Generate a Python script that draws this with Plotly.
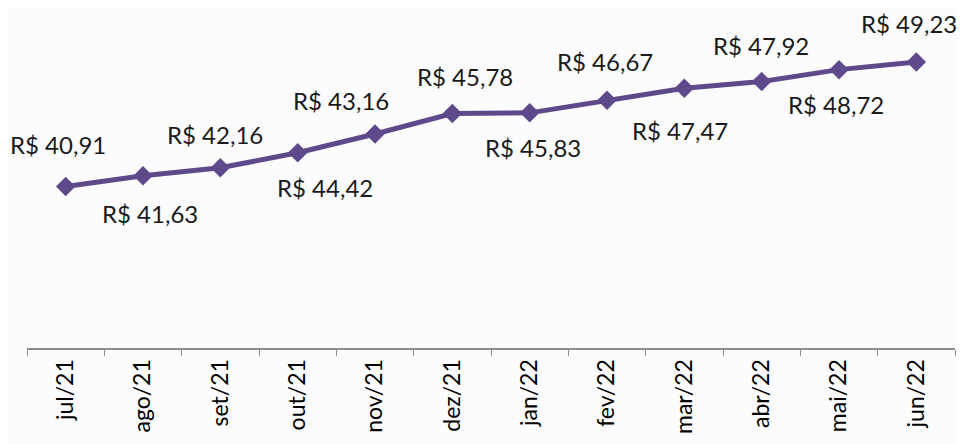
import plotly.graph_objects as go

months = ["jul/21", "ago/21", "set/21", "out/21", "nov/21", "dez/21",
          "jan/22", "fev/22", "mar/22", "abr/22", "mai/22", "jun/22"]
values = [40.91, 41.63, 42.16, 43.16, 44.42, 45.78,
          45.83, 46.67, 47.47, 47.92, 48.72, 49.23]

# label offsets in pixels (style only)
label_dx = [-8, 7, -5, 43, -50, 13, 3, -2, -4, -1, -3, -7]
label_dy = [42, -38, 33, 52, -54, 37, -35, 39, -42, 36, -35, 39]

color = "#5e4a8b"
font_family = "Lato, 'Open Sans', sans-serif"

fig = go.Figure()
fig.add_trace(go.Scatter(
    x=months, y=values, mode="lines+markers",
    line=dict(color=color, width=5),
    marker=dict(symbol="diamond", size=15, color=color),
    hoverinfo="skip", showlegend=False,
))

for m, v, dx, dy in zip(months, values, label_dx, label_dy):
    txt = "R$ " + f"{v:.2f}".replace(".", ",")
    fig.add_annotation(x=m, y=v, text=txt, showarrow=False,
                       xshift=dx, yshift=dy,
                       font=dict(family=font_family, size=24, color="#1a1a1a"))

fig.update_layout(
    width=965, height=444,
    margin=dict(l=19, r=18, t=0, b=104, autoexpand=False),
    paper_bgcolor="#fcfcfe", plot_bgcolor="#fcfcfe",
    xaxis=dict(type="category", tickson="boundaries", ticks="outside",
               ticklen=6, tickcolor="#8c8c8c", showline=True, linecolor="#8c8c8c",
               linewidth=2, showgrid=False, tickangle=-90, automargin=False,
               tickfont=dict(family=font_family, size=23, color="#000000"),
               range=[-0.5, 11.5]),
    yaxis=dict(range=[30.11, 52.84], visible=False, showgrid=False, zeroline=False,
               automargin=False),
)

fig.write_html("out.html")
